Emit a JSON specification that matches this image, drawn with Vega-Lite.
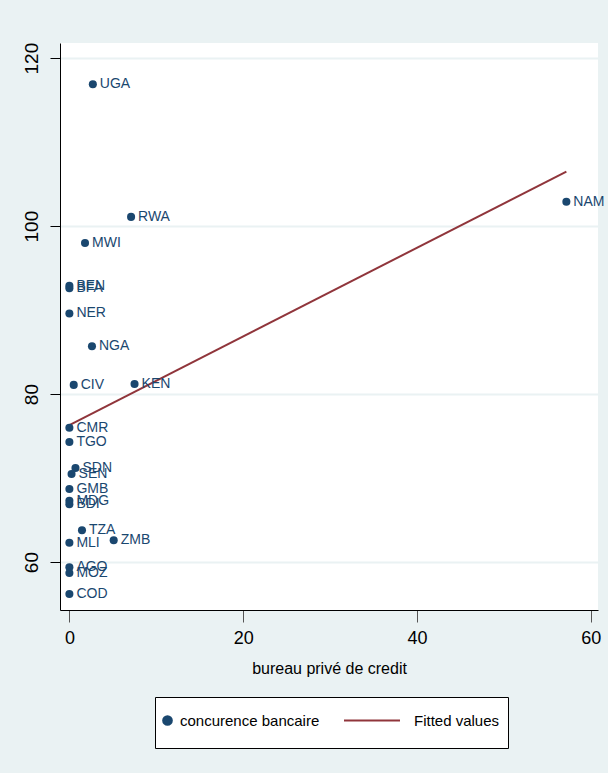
{
  "$schema": "https://vega.github.io/schema/vega-lite/v6.json",
  "width": 538,
  "height": 567,
  "autosize": {"type": "none"},
  "padding": {"left": 60, "top": 43, "right": 10, "bottom": 163},
  "background": "#EAF2F3",
  "config": {
    "view": {"fill": "white", "stroke": null},
    "font": "Liberation Sans"
  },
  "datasets": {
    "pts": [
      {"code": "UGA", "bureau": 2.7, "conc": 116.9, "series": "concurence bancaire"},
      {"code": "RWA", "bureau": 7.1, "conc": 101.1, "series": "concurence bancaire"},
      {"code": "MWI", "bureau": 1.8, "conc": 98.0, "series": "concurence bancaire"},
      {"code": "BEN", "bureau": 0.0, "conc": 92.9, "series": "concurence bancaire"},
      {"code": "BFA", "bureau": 0.0, "conc": 92.6, "series": "concurence bancaire"},
      {"code": "NER", "bureau": 0.0, "conc": 89.6, "series": "concurence bancaire"},
      {"code": "NGA", "bureau": 2.6, "conc": 85.7, "series": "concurence bancaire"},
      {"code": "CIV", "bureau": 0.5, "conc": 81.1, "series": "concurence bancaire"},
      {"code": "KEN", "bureau": 7.5, "conc": 81.2, "series": "concurence bancaire"},
      {"code": "CMR", "bureau": 0.0, "conc": 76.0, "series": "concurence bancaire"},
      {"code": "TGO", "bureau": 0.0, "conc": 74.3, "series": "concurence bancaire"},
      {"code": "SDN", "bureau": 0.7, "conc": 71.2, "series": "concurence bancaire"},
      {"code": "SEN", "bureau": 0.25, "conc": 70.5, "series": "concurence bancaire"},
      {"code": "GMB", "bureau": 0.0, "conc": 68.7, "series": "concurence bancaire"},
      {"code": "MDG", "bureau": 0.0, "conc": 67.3, "series": "concurence bancaire"},
      {"code": "BDI", "bureau": 0.0, "conc": 66.9, "series": "concurence bancaire"},
      {"code": "TZA", "bureau": 1.45, "conc": 63.8, "series": "concurence bancaire"},
      {"code": "ZMB", "bureau": 5.1, "conc": 62.6, "series": "concurence bancaire"},
      {"code": "MLI", "bureau": 0.0, "conc": 62.3, "series": "concurence bancaire"},
      {"code": "AGO", "bureau": 0.0, "conc": 59.4, "series": "concurence bancaire"},
      {"code": "MOZ", "bureau": 0.0, "conc": 58.7, "series": "concurence bancaire"},
      {"code": "COD", "bureau": 0.0, "conc": 56.2, "series": "concurence bancaire"},
      {"code": "NAM", "bureau": 57.2, "conc": 102.9, "series": "concurence bancaire"}
    ],
    "fit": [
      {"bureau": 0.0, "conc": 76.3, "series": "Fitted values"},
      {"bureau": 57.2, "conc": 106.5, "series": "Fitted values"}
    ]
  },
  "encoding": {
    "x": {
      "field": "bureau", "type": "quantitative",
      "scale": {"domain": [-1.08, 60.84], "nice": false, "zero": false},
      "axis": {
        "title": "bureau privé de credit", "values": [0, 20, 40, 60], "grid": false,
        "domain": true, "domainColor": "black", "domainWidth": 1,
        "tickColor": "#555555", "tickSize": 12, "tickWidth": 1,
        "labelFontSize": 18, "labelColor": "black", "labelPadding": 7,
        "titleFontSize": 16, "titleFontWeight": "normal", "titleColor": "black", "titlePadding": 13
      }
    },
    "y": {
      "field": "conc", "type": "quantitative",
      "scale": {"domain": [54.3, 121.8], "nice": false, "zero": false},
      "axis": {
        "title": null, "values": [60, 80, 100, 120], "grid": true,
        "gridColor": "#EAF2F3", "gridWidth": 2,
        "domain": true, "domainColor": "black", "domainWidth": 1,
        "tickColor": "black", "tickSize": 10, "tickWidth": 1,
        "labelAngle": -90, "labelAlign": "center", "labelBaseline": "bottom",
        "labelFontSize": 19, "labelColor": "black", "labelPadding": 9
      }
    }
  },
  "layer": [
    {
      "data": {"name": "fit"},
      "mark": {"type": "line", "strokeWidth": 2},
      "encoding": {
        "color": {
          "field": "series", "type": "nominal",
          "scale": {"domain": ["concurence bancaire", "Fitted values"], "range": ["#1A476F", "#90353B"]},
          "legend": {
            "orient": "none", "legendX": 95, "legendY": 654, "direction": "horizontal", "title": null,
            "fillColor": "white", "strokeColor": "black", "padding": 8,
            "labelFontSize": 15, "labelColor": "black", "labelLimit": 400, "columnPadding": 20, "labelOffset": 9,
            "symbolType": "circle", "symbolSize": 60,
            "encoding": {
              "symbols": {
                "shape": {"value": {"expr": "datum.value === 'Fitted values' ? 'M-1,-0.55M-1,0H1M1,0.55' : 'M0,-0.55M-0.155,0A0.155,0.155,0,1,0,0.155,0A0.155,0.155,0,1,0,-0.155,0ZM0,0.55'"}},
                "size": {"value": 3136},
                "fill": {"value": {"expr": "datum.value === 'Fitted values' ? 'transparent' : '#1A476F'"}},
                "stroke": {"value": {"expr": "datum.value === 'Fitted values' ? '#90353B' : 'transparent'"}},
                "strokeWidth": {"value": 2},
                "opacity": {"value": 1},
                "x": {"value": {"expr": "datum.value === 'Fitted values' ? 28 : 4.5"}},
                "y": {"value": 15.4}
              },
              "labels": {
                "x": {"value": {"expr": "datum.value === 'Fitted values' ? 70 : 17"}},
                "y": {"value": 15.4}
              }
            }
          }
        }
      }
    },
    {
      "data": {"name": "pts"},
      "mark": {"type": "point", "filled": true, "size": 65, "opacity": 1},
      "encoding": {
        "color": {"field": "series", "type": "nominal"}
      }
    },
    {
      "data": {"name": "pts"},
      "mark": {"type": "text", "align": "left", "baseline": "middle", "dx": 7, "fontSize": 14, "color": "#1A476F"},
      "encoding": {
        "text": {"field": "code"}
      }
    }
  ]
}
